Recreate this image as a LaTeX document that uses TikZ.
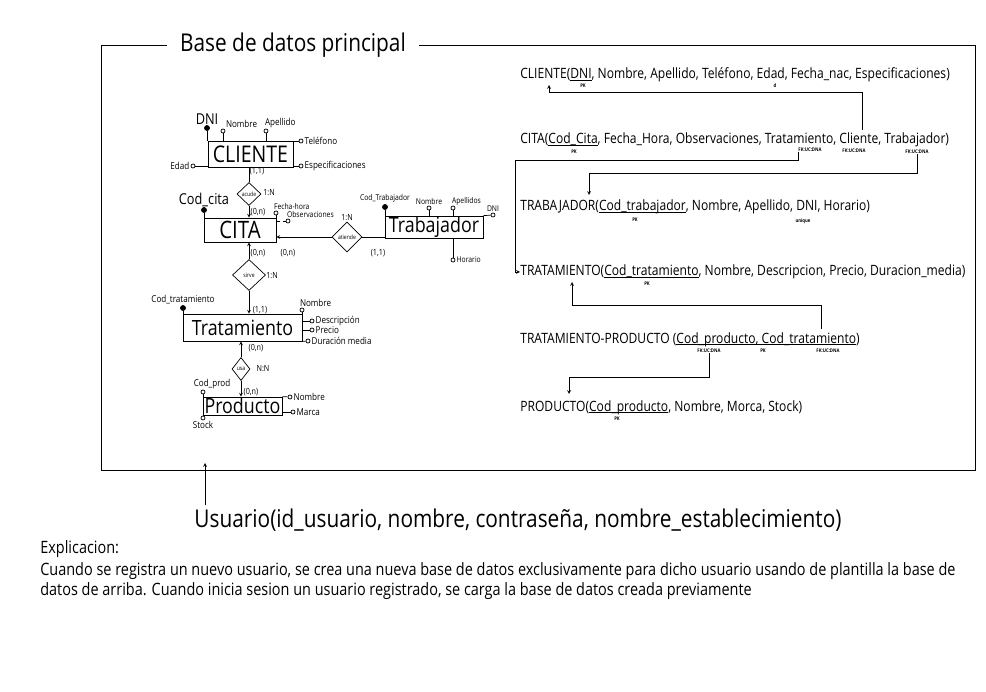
\documentclass[tikz,border=0pt]{standalone}
\usepackage{fontspec}
\setmainfont{Open Sans}[FakeStretch=0.85]
\usetikzlibrary{shapes.geometric, arrows}
\tikzstyle{entity} = [rectangle, draw=black, inner sep=0pt, text centered, font=\fontsize{21}{23}\selectfont]
\tikzstyle{relation} = [diamond, draw=black, inner sep=0pt, aspect=1, fill=white, font=\fontsize{6}{6}\selectfont]
\tikzstyle{attr} = [circle, draw=black, fill=white, inner sep=0pt, minimum size=4pt]
\tikzstyle{keyattr} = [circle, draw=black, fill=black, inner sep=0pt, minimum size=5pt]
\tikzstyle{tiny} = [font=\fontsize{9.5}{10}\selectfont, inner sep=1pt]
\tikzstyle{tinier} = [font=\fontsize{8}{9}\selectfont, inner sep=1pt]
\tikzstyle{card} = [font=\fontsize{8.5}{9}\selectfont, inner sep=0pt]
\tikzstyle{table} = [anchor=west, inner sep=0pt, font=\fontsize{14.2}{16}\selectfont]
\tikzstyle{tag} = [inner sep=0pt, font=\fontsize{5}{5}\selectfont\bfseries]
\tikzstyle{arrow} = [->,>=stealth]
\newcommand{\keyul}[1]{\underline{\smash{#1}}}

\begin{document}
\begin{tikzpicture}[x=1pt, y=-1pt, line width=0.7pt]
    \useasboundingbox (0,0) rectangle (986,692);

    % frame of the main database
    \node (title) [inner xsep=13pt, font=\fontsize{24.5}{26}\selectfont] at (293,45) {Base de datos principal};
    \draw (title.west) -- (101,45) -- (101,470) -- (975,470) -- (975,45) -- (title.east);

    % entity relationship diagram
    \node (cliente) [entity, minimum width=85pt, minimum height=26pt, font=\fontsize{23}{24}\selectfont] at (250.5,154) {CLIENTE};
    \node (cita) [entity, minimum width=72pt, minimum height=24pt, font=\fontsize{24}{24}\selectfont] at (240,230) {CITA};
    \node (trab) [entity, minimum width=98pt, minimum height=22pt] at (434,227) {Trabajador};
    \node (trat) [entity, minimum width=119pt, minimum height=27pt] at (242.5,327.5) {Tratamiento};
    \node (prod) [entity, minimum width=79pt, minimum height=18pt] at (242.5,406) {Producto};

    \node (acude) [relation, minimum width=24pt, minimum height=23pt] at (249,194) {acude};
    \node (atiende) [relation, minimum width=30pt, minimum height=30pt] at (347,237) {atiende};
    \node (sirve) [relation, minimum width=33pt, minimum height=31pt] at (249,275) {sirve};
    \node (usa) [relation, minimum width=18pt, minimum height=23pt] at (241,369) {usa};

    \draw (acude.north) -- (acude.north |- cliente.south);
    \draw [arrow] (acude.south) -- (acude.south |- cita.north);
    \draw [arrow] (atiende.west) -- (atiende.west -| cita.east);
    \draw (atiende.east) -- (atiende.east -| trab.west);
    \draw [arrow] (sirve.north) -- (sirve.north |- cita.south);
    \draw [arrow] (sirve.south) -- (sirve.south |- trat.north);
    \draw [arrow] (usa.north) -- (usa.north |- trat.south);
    \draw [arrow] (usa.south) -- (usa.south |- prod.north);

    \node (c_cli) [card] at (257,171) {(1,1)};
    \node (n_acude) [card] at (269,193) {1:N};
    \node (c_cita1) [card] at (258,212) {(0,n)};
    \node (c_cita2) [card] at (288,253) {(0,n)};
    \node (n_atiende) [card] at (347,218) {1:N};
    \node (c_trab) [card] at (378,253) {(1,1)};
    \node (c_cita3) [card] at (258,253) {(0,n)};
    \node (n_sirve) [card] at (272,276) {1:N};
    \node (c_trat1) [card] at (260,310) {(1,1)};
    \node (c_trat2) [card] at (256,348) {(0,n)};
    \node (n_usa) [card] at (263,369) {N:N};
    \node (c_prod) [card] at (251,392) {(0,n)};

    % attributes of CLIENTE
    \node (cli_dni) [keyattr, label={[font=\fontsize{15}{15}\selectfont, inner sep=0pt]above:DNI}] at (207,128) {};
    \node (cli_nom) [attr, label={[tiny]above right:Nombre}] at (223,131) {};
    \node (cli_ape) [attr, label={[tiny, xshift=-4pt]above right:Apellido}] at (266,131) {};
    \node (cli_tel) [attr, label={[tiny]right:Teléfono}] at (301,141) {};
    \node (cli_esp) [attr, label={[tiny]right:Especificaciones}] at (301,166) {};
    \node (cli_edad) [attr, label={[tiny]left:Edad}] at (193,166) {};
    \draw (cli_dni) -- (cli_dni |- cliente.north);
    \draw (cli_nom) -- (cli_nom |- cliente.north);
    \draw (cli_ape) -- (cli_ape |- cliente.north);
    \draw (cli_tel) -- (cli_tel -| cliente.east);
    \draw (cli_esp) -- (cli_esp -| cliente.east);
    \draw (cli_edad) -- (cli_edad -| cliente.west);

    % attributes of CITA
    \node (cita_cod) [keyattr, label={[font=\fontsize{15}{15}\selectfont, inner sep=0pt]above:Cod\_cita}] at (204,210) {};
    \node (cita_fec) [attr, label={[tinier, xshift=-5pt]above right:Fecha-hora}] at (276,213) {};
    \node (cita_obs) [attr, label={[tinier, xshift=-4pt]above right:Observaciones}] at (288,221) {};
    \draw (cita_cod) -- (cita_cod |- cita.north);
    \draw (cita_fec) -- (cita_fec |- cita.north);
    \draw [dashed] (cita_obs) -- (cita_obs -| cita.east);

    % attributes of Trabajador
    \node (trab_cod) [keyattr, label={[tinier]above:Cod\_Trabajador}] at (385,207) {};
    \node (trab_nom) [attr, label={[tinier]above:Nombre}] at (429,208) {};
    \node (trab_ape) [attr, label={[tinier, xshift=-4pt]above right:Apellidos}] at (453,208) {};
    \node (trab_dni) [attr, label={[tinier]above:DNI}] at (493,215) {};
    \node (trab_hor) [attr, label={[tinier]right:Horario}] at (453,260) {};
    \draw (trab_cod) -- (trab_cod |- trab.north);
    \draw (trab_nom) -- (trab_nom |- trab.north);
    \draw (trab_ape) -- (trab_ape |- trab.north);
    \draw (trab_dni) -- (trab.north east);
    \draw (trab_hor) -- (trab_hor |- trab.south);

    % attributes of Tratamiento
    \node (trat_cod) [keyattr, label={[tiny]above:Cod\_tratamiento}] at (183,308) {};
    \node (trat_nom) [attr, label={[tiny, xshift=-5pt]above right:Nombre}] at (302,310) {};
    \node (trat_des) [attr, label={[tiny]right:Descripción}] at (312,321) {};
    \node (trat_pre) [attr, label={[tiny]right:Precio}] at (312,330) {};
    \node (trat_dur) [attr, label={[tiny]right:Duración media}] at (308,341) {};
    \draw (trat_cod) -- (trat_cod |- trat.north);
    \draw (trat_nom) -- (trat_nom |- trat.north);
    \draw (trat_des) -- (trat_des -| trat.east);
    \draw (trat_pre) -- (trat_pre -| trat.east);
    \draw (trat_dur) -- (trat.south east);

    % attributes of Producto
    \node (prod_cod) [attr, label={[tiny, xshift=9pt]above:Cod\_prod}] at (203,392) {};
    \node (prod_stock) [attr, label={[tiny]below:Stock}] at (203,418) {};
    \node (prod_nom) [attr, label={[tiny]right:Nombre}] at (290,397) {};
    \node (prod_mar) [attr, label={[tiny]right:Marca}] at (293,412) {};
    \draw (prod_cod) -- (prod_stock);
    \draw (prod_nom) -- (prod.north east);
    \draw (prod_mar) -- (prod_mar -| prod.east);

    % relational model
    \node (tbl_cli) [table] at (520,75) {CLIENTE(\keyul{DNI}, Nombre, Apellido, Teléfono, Edad, Fecha\_nac, Especificaciones)};
    \node (tbl_cita) [table] at (520,140) {CITA(\keyul{Cod\_Cita}, Fecha\_Hora, Observaciones, Tratamiento, Cliente, Trabajador)};
    \node (tbl_trab) [table] at (520,207) {TRABAJADOR(\keyul{Cod\_trabajador}, Nombre, Apellido, DNI, Horario)};
    \node (tbl_trat) [table] at (520,272) {TRATAMIENTO(\keyul{Cod\_tratamiento}, Nombre, Descripcion, Precio, Duracion\_media)};
    \node (tbl_tp) [table] at (520,339) {TRATAMIENTO-PRODUCTO (\keyul{Cod\_producto, Cod\_tratamiento})};
    \node (tbl_prod) [table] at (520,407) {PRODUCTO(\keyul{Cod\_producto}, Nombre, Morca, Stock)};

    \node (pk_cli) [tag] at (583,86) {PK};
    \node (d_cli) [tag] at (775,86) {d};
    \node (pk_cita) [tag] at (574,152) {PK};
    \node (fk_trat) [tag] at (810,150) {FK:UC:DNA};
    \node (fk_cli) [tag] at (854,151) {FK:UC:DNA};
    \node (fk_trab) [tag] at (917,152) {FK:UC:DNA};
    \node (pk_trab) [tag] at (635,220) {PK};
    \node (uq_trab) [tag] at (803,221) {unique};
    \node (pk_trat) [tag] at (647,284) {PK};
    \node (fk_tp1) [tag] at (709,351) {FK:UC:DNA};
    \node (pk_tp) [tag] at (763,351) {PK};
    \node (fk_tp2) [tag] at (828,351) {FK:UC:DNA};
    \node (pk_prod) [tag] at (617,419) {PK};

    \coordinate (cli_ref) at (549,85);
    \coordinate (cita_cli) at (862,130);
    \coordinate (trab_ref) at (589,195);
    \coordinate (trat_ref) at (572,282);
    \coordinate (tp_trat) at (821,329);
    \coordinate (prod_ref) at (569,394);

    \draw [arrow] (cita_cli) |- (549,92) -- (cli_ref);
    \draw [arrow] (fk_trat.south west) |- (515,160) |- (tbl_trat.west);
    \draw [arrow] (fk_trab.south) |- (589,173) -- (trab_ref);
    \draw [arrow] (tp_trat) |- (572,305) -- (trat_ref);
    \draw [arrow] (fk_tp1.south) |- (569,377) -- (prod_ref);

    % user table and explanation
    \node (usuario) [font=\fontsize{24.5}{26}\selectfont] at (518,520) {Usuario(id\_usuario, nombre, contraseña, nombre\_establecimiento)};
    \coordinate (usr_tip) at (205,463);
    \draw [arrow] (usr_tip |- usuario.north) -- (usr_tip);

    \node (expl) [anchor=north west, align=left, inner sep=0pt, font=\fontsize{17}{20}\selectfont] at (40,540) {Explicacion:\\[2pt]
        Cuando se registra un nuevo usuario, se crea una nueva base de datos exclusivamente para dicho usuario usando de plantilla la base de\\
        datos de arriba. Cuando inicia sesion un usuario registrado, se carga la base de datos creada previamente};
\end{tikzpicture}
\end{document}
